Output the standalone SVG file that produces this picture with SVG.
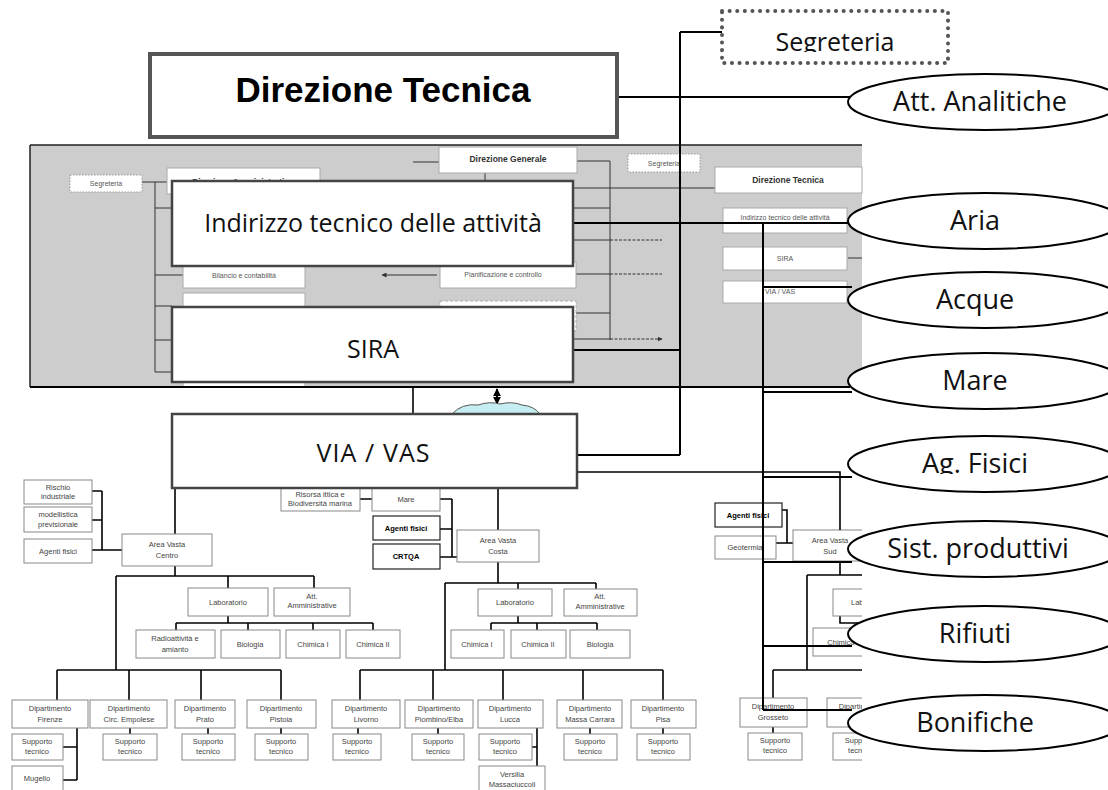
<svg xmlns="http://www.w3.org/2000/svg" width="1108" height="790" viewBox="0 0 1108 790">
<style>
.big{fill:#fff;stroke:#444;stroke-width:2.5}
.bt{font-family:"Open Sans","DejaVu Sans",sans-serif;font-size:25px;fill:#111;text-anchor:middle}
.el{fill:#fff;stroke:#000;stroke-width:2}
.et{font-family:"Open Sans","DejaVu Sans",sans-serif;font-size:27px;fill:#111;text-anchor:middle}
.ct{fill:none;stroke:#000;stroke-width:2}
.c{fill:none;stroke:#000;stroke-width:1.6}
.sl{fill:none;stroke:#333;stroke-width:1}
.ib{fill:#fff;stroke:#aaa;stroke-width:1}
.it{font-family:"Liberation Sans",Arial,sans-serif;font-size:7px;fill:#555;text-anchor:middle}
.itb{font-family:"Liberation Sans",Arial,sans-serif;font-size:8.5px;font-weight:bold;fill:#333;text-anchor:middle}
.sb{fill:#fff;stroke:#888;stroke-width:1}
.sbb{fill:#fff;stroke:#222;stroke-width:1.2}
.st{font-family:"Liberation Sans",Arial,sans-serif;font-size:7.5px;fill:#444;text-anchor:middle}
.stb{font-family:"Liberation Sans",Arial,sans-serif;font-size:7.5px;font-weight:bold;fill:#000;text-anchor:middle}
.dot{fill:#fff;stroke:#999;stroke-width:1;stroke-dasharray:1.5 1.5}
</style>
<defs>
<marker id="ah" viewBox="0 0 10 10" refX="9" refY="5" markerWidth="5" markerHeight="5" orient="auto"><path d="M0,0L10,5L0,10z" fill="#333"/></marker>
<marker id="ahb" viewBox="0 0 10 10" refX="9" refY="5" markerWidth="4" markerHeight="4" orient="auto-start-reverse"><path d="M0,0L10,5L0,10z" fill="#000"/></marker>
<clipPath id="cr"><rect x="0" y="0" width="862" height="790"/></clipPath>
<clipPath id="csegr"><rect x="720" y="0" width="230" height="52"/></clipPath>
<clipPath id="cagf"><rect x="840" y="430" width="268" height="44"/></clipPath>
</defs>

<!-- embedded screenshot background -->
<g id="screenshot">
<rect x="30" y="145" width="832" height="242" fill="#cdcdcd"/>
<path d="M30,145H862M30,145V387" stroke="#222" stroke-width="1.5" fill="none"/>
<g id="ss-lines">
<path class="sl" d="M142,182H167M155,182V372M155,208H172M155,275H183M155,306H172M155,340H172M155,372H172"/>
<path class="sl" d="M413,162H439M485,173V181"/>
<path class="sl" d="M437,275H382" marker-end="url(#ah)"/>
<path class="sl" d="M577,161H610M610,161V340M573,188H715M573,208H610M576,274H610M573,313H610M573,240H610M573,339H610M848,258H862"/>
<path class="sl" d="M610,240H662M610,274H662M610,339H662" stroke-dasharray="3 1.5" marker-end="url(#ah)"/>
</g>
<g id="ss-segr1"><rect class="dot" x="70" y="175" width="72" height="17"/><text class="it" x="106" y="186">Segreteria</text></g>
<g id="ss-diramm"><rect class="ib" x="167" y="168" width="153" height="26"/><text class="itb" x="243" y="185">Direzione Amministrativa</text></g>
<g id="ss-bilancio"><rect class="ib" x="183" y="262" width="122" height="26"/><text class="it" x="244" y="278">Bilancio e contabilità</text></g>
<g id="ss-pers"><rect class="ib" x="183" y="293" width="122" height="30"/></g>
<g id="ss-bottom"><rect class="ib" x="183" y="378" width="122" height="9"/></g>
<g id="ss-dg"><rect class="ib" x="439" y="147" width="138" height="26"/><text class="itb" x="508" y="162">Direzione Generale</text></g>
<g id="ss-pianif"><rect class="ib" x="440" y="262" width="136" height="26"/><text class="it" x="503" y="277">Pianificazione e controllo</text></g>
<g id="ss-dashed"><rect class="ib" x="440" y="301" width="136" height="30" stroke-dasharray="3 2"/></g>
<g id="ss-segr2"><rect class="dot" x="628" y="154" width="72" height="18"/><text class="it" x="664" y="166">Segreteria</text></g>
<g id="ss-dt"><rect class="ib" x="715" y="167" width="147" height="26"/><text class="itb" x="788" y="183">Direzione Tecnica</text></g>
<g id="ss-indir"><rect class="ib" x="723" y="208" width="124" height="25"/><text class="it" x="785" y="220">Indirizzo tecnico delle attività</text></g>
<g id="ss-sira"><rect class="ib" x="723" y="247" width="124" height="23"/><text class="it" x="785" y="261">SIRA</text></g>
<g id="ss-via"><rect class="ib" x="723" y="281" width="124" height="22"/><text class="it" x="780" y="294">VIA / VAS</text></g>
</g>

<!-- lower org chart -->
<g id="org-connectors">
<path class="c" d="M92,491H102M92,520H102M92,550H122M102,491V550"/>
<path class="c" d="M175,488V534M175,566V576M116,576H314M228,576V588M314,576V588M116,576V670"/>
<path class="c" d="M228,616V623M176,623H373M176,623V630M248,623V630M313,623V630M373,623V630"/>
<path class="c" d="M57,670H281M57,670V700M129,670V700M201,670V700M281,670V700"/>
<path class="c" d="M77,728V780M63,747H77M63,780H77M130,728V734M208,728V734M281,728V734"/>
<path class="c" d="M360,499H372M440,499H452M440,529H452M440,557H457M452,499V557"/>
<path class="c" d="M498,488V530M498,562V583M445,583H596M518,583V589M596,583V589M445,583V670"/>
<path class="c" d="M518,616V623M491,623H597M491,623V630M537,623V630M597,623V630"/>
<path class="c" d="M360,670H663M360,670V700M433,670V700M503,670V700M583,670V700M663,670V700"/>
<path class="c" d="M358,728V734M438,728V734M590,728V734M663,728V734M537,728V766M532,747H537"/>
<g clip-path="url(#cr)">
<path class="c" d="M782,510H787V543H793M776,543H787"/>
<path class="c" d="M840,561V575M807,575H870M807,575V670M840,616V623H870M773,670H870M773,670V698M773,727V733"/>
</g>
</g>

<g id="n-rischio"><rect class="sb" x="24" y="480" width="68" height="24"/><text class="st" x="58" y="490">Rischio</text><text class="st" x="58" y="499">industriale</text></g>
<g id="n-modell"><rect class="sb" x="24" y="507" width="68" height="25"/><text class="st" x="58" y="517">modellistica</text><text class="st" x="58" y="527">previsionale</text></g>
<g id="n-agfis1"><rect class="sb" x="24" y="539" width="68" height="24"/><text class="st" x="58" y="554">Agenti fisici</text></g>
<g id="n-avcentro"><rect class="sb" x="122" y="534" width="90" height="32"/><text class="st" x="167" y="547">Area Vasta</text><text class="st" x="167" y="558">Centro</text></g>
<g id="n-lab1"><rect class="sb" x="188" y="588" width="80" height="28"/><text class="st" x="228" y="605">Laboratorio</text></g>
<g id="n-amm1"><rect class="sb" x="274" y="588" width="76" height="28"/><text class="st" x="312" y="599">Att.</text><text class="st" x="312" y="608">Amministrative</text></g>
<g id="n-radio"><rect class="sb" x="136" y="630" width="79" height="28"/><text class="st" x="175" y="641">Radioattività  e</text><text class="st" x="175" y="652">amianto</text></g>
<g id="n-bio1"><rect class="sb" x="221" y="630" width="59" height="28"/><text class="st" x="250" y="647">Biologia</text></g>
<g id="n-chim1"><rect class="sb" x="286" y="630" width="54" height="28"/><text class="st" x="313" y="647">Chimica I</text></g>
<g id="n-chim2"><rect class="sb" x="346" y="630" width="54" height="28"/><text class="st" x="373" y="647">Chimica II</text></g>

<g id="n-firenze"><rect class="sb" x="12" y="700" width="76" height="28"/><text class="st" x="50" y="711">Dipartimento</text><text class="st" x="50" y="722">Firenze</text></g>
<g id="n-empolese"><rect class="sb" x="90" y="700" width="77" height="28"/><text class="st" x="129" y="711">Dipartimento</text><text class="st" x="129" y="722">Circ. Empolese</text></g>
<g id="n-prato"><rect class="sb" x="175" y="700" width="60" height="28"/><text class="st" x="205" y="711">Dipartimento</text><text class="st" x="205" y="722">Prato</text></g>
<g id="n-pistoia"><rect class="sb" x="247" y="700" width="69" height="28"/><text class="st" x="281" y="711">Dipartimento</text><text class="st" x="281" y="722">Pistoia</text></g>
<g id="n-livorno"><rect class="sb" x="332" y="700" width="68" height="28"/><text class="st" x="366" y="711">Dipartimento</text><text class="st" x="366" y="722">Livorno</text></g>
<g id="n-piombino"><rect class="sb" x="405" y="700" width="68" height="28"/><text class="st" x="439" y="711">Dipartimento</text><text class="st" x="439" y="722">Piombino/Elba</text></g>
<g id="n-lucca"><rect class="sb" x="478" y="700" width="65" height="28"/><text class="st" x="510" y="711">Dipartimento</text><text class="st" x="510" y="722">Lucca</text></g>
<g id="n-massa"><rect class="sb" x="557" y="700" width="65" height="28"/><text class="st" x="590" y="711">Dipartimento</text><text class="st" x="590" y="722">Massa Carrara</text></g>
<g id="n-pisa"><rect class="sb" x="631" y="700" width="65" height="28"/><text class="st" x="663" y="711">Dipartimento</text><text class="st" x="663" y="722">Pisa</text></g>

<g id="n-sup-fi"><rect class="sb" x="12" y="734" width="51" height="26"/><text class="st" x="37" y="744">Supporto</text><text class="st" x="37" y="754">tecnico</text></g>
<g id="n-mugello"><rect class="sb" x="12" y="766" width="51" height="28"/><text class="st" x="37" y="781">Mugello</text></g>
<g id="n-sup-em"><rect class="sb" x="103" y="734" width="54" height="26"/><text class="st" x="130" y="744">Supporto</text><text class="st" x="130" y="754">tecnico</text></g>
<g id="n-sup-pr"><rect class="sb" x="182" y="734" width="53" height="26"/><text class="st" x="208" y="744">Supporto</text><text class="st" x="208" y="754">tecnico</text></g>
<g id="n-sup-pt"><rect class="sb" x="255" y="734" width="53" height="26"/><text class="st" x="281" y="744">Supporto</text><text class="st" x="281" y="754">tecnico</text></g>
<g id="n-sup-li"><rect class="sb" x="333" y="734" width="48" height="26"/><text class="st" x="357" y="744">Supporto</text><text class="st" x="357" y="754">tecnico</text></g>
<g id="n-sup-pb"><rect class="sb" x="412" y="734" width="52" height="26"/><text class="st" x="438" y="744">Supporto</text><text class="st" x="438" y="754">tecnico</text></g>
<g id="n-sup-lu"><rect class="sb" x="479" y="734" width="53" height="26"/><text class="st" x="505" y="744">Supporto</text><text class="st" x="505" y="754">tecnico</text></g>
<g id="n-versilia"><rect class="sb" x="479" y="766" width="66" height="28"/><text class="st" x="512" y="777">Versilia</text><text class="st" x="512" y="787">Massaciuccoli</text></g>
<g id="n-sup-ms"><rect class="sb" x="564" y="734" width="53" height="26"/><text class="st" x="590" y="744">Supporto</text><text class="st" x="590" y="754">tecnico</text></g>
<g id="n-sup-pi"><rect class="sb" x="637" y="734" width="53" height="26"/><text class="st" x="663" y="744">Supporto</text><text class="st" x="663" y="754">tecnico</text></g>

<g id="n-risorsa"><rect class="sb" x="281" y="488" width="79" height="23"/><text class="st" x="320" y="497">Risorsa ittica e</text><text class="st" x="320" y="506">Biodiversità marina</text></g>
<g id="n-mare2"><rect class="sb" x="372" y="488" width="68" height="23"/><text class="st" x="406" y="502">Mare</text></g>
<g id="n-agfis2"><rect class="sbb" x="373" y="516" width="67" height="24"/><text class="stb" x="406" y="531">Agenti fisici</text></g>
<g id="n-crtqa"><rect class="sbb" x="373" y="544" width="67" height="25"/><text class="stb" x="406" y="559">CRTQA</text></g>
<g id="n-avcosta"><rect class="sb" x="457" y="530" width="82" height="32"/><text class="st" x="498" y="543">Area Vasta</text><text class="st" x="498" y="554">Costa</text></g>
<g id="n-lab2"><rect class="sb" x="478" y="589" width="74" height="27"/><text class="st" x="515" y="605">Laboratorio</text></g>
<g id="n-amm2"><rect class="sb" x="564" y="589" width="73" height="27"/><text class="st" x="600" y="599">Att.</text><text class="st" x="600" y="609">Amministrative</text></g>
<g id="n-chimI2"><rect class="sb" x="451" y="630" width="53" height="28"/><text class="st" x="477" y="647">Chimica I</text></g>
<g id="n-chimII2"><rect class="sb" x="511" y="630" width="55" height="28"/><text class="st" x="538" y="647">Chimica II</text></g>
<g id="n-bio2"><rect class="sb" x="570" y="630" width="60" height="28"/><text class="st" x="600" y="647">Biologia</text></g>

<g id="sud" clip-path="url(#cr)">
<g id="n-agfis3"><rect class="sbb" x="715" y="503" width="67" height="24"/><text class="stb" x="748" y="518">Agenti fisici</text></g>
<g id="n-geo"><rect class="sb" x="715" y="536" width="61" height="23"/><text class="st" x="745" y="550">Geotermia</text></g>
<g id="n-avsud"><rect class="sb" x="793" y="530" width="74" height="31"/><text class="st" x="830" y="543">Area Vasta</text><text class="st" x="830" y="554">Sud</text></g>
<g id="n-lab3"><rect class="sb" x="833" y="589" width="74" height="27"/><text class="st" x="870" y="605">Laboratorio</text></g>
<g id="n-chim3"><rect class="sb" x="813" y="628" width="60" height="28"/><text class="st" x="843" y="645">Chimica I</text></g>
<g id="n-grosseto"><rect class="sb" x="740" y="698" width="67" height="29"/><text class="st" x="773" y="709">Dipartimento</text><text class="st" x="773" y="720">Grosseto</text></g>
<g id="n-siena"><rect class="sb" x="827" y="698" width="67" height="29"/><text class="st" x="860" y="709">Dipartimento</text><text class="st" x="860" y="720">Siena</text></g>
<g id="n-sup-gr"><rect class="sb" x="748" y="733" width="54" height="27"/><text class="st" x="775" y="743">Supporto</text><text class="st" x="775" y="753">tecnico</text></g>
<g id="n-sup-si"><rect class="sb" x="833" y="733" width="54" height="27"/><text class="st" x="860" y="743">Supporto</text><text class="st" x="860" y="753">tecnico</text></g>
</g>

<!-- main connectors -->
<g id="connectors">
<path class="ct" d="M30,387H850" stroke-width="2.5"/>
<path class="ct" d="M617,97H852"/>
<path class="ct" d="M680,32H722M680,32V455M577,455H680"/>
<path class="ct" d="M573,223H852M763,223V710M763,287H852M763,392H852M763,477H852M763,562H852M763,646H852M763,710H852"/>
<path class="ct" d="M573,350H680"/>
<path class="c" d="M577,472H840V530" stroke-width="1.2"/>
<path class="c" d="M413,387V414" stroke-width="1.3"/>
<path class="ct" d="M497,389V404" marker-start="url(#ahb)" marker-end="url(#ahb)"/>
</g>

<g id="n-cloud"><path d="M452,414Q462,403 478,405Q490,401 500,404Q512,401 522,405Q534,406 540,414Z" fill="#c6eef2" stroke="#555" stroke-width="1"/></g>

<!-- main nodes -->
<g id="n-dirtec"><rect x="150" y="54" width="467" height="83" fill="#fff" stroke="#555" stroke-width="4"/><text x="383" y="102" font-family="'Liberation Sans',Arial,sans-serif" font-size="35" font-weight="bold" fill="#000" text-anchor="middle">Direzione Tecnica</text></g>
<g id="n-segreteria"><rect x="722" y="11" width="226" height="52" fill="#fff" stroke="#555" stroke-width="4" stroke-dasharray="0.1 7.5" stroke-linecap="round"/><text class="bt" x="835" y="51" font-size="24" clip-path="url(#csegr)">Segreteria</text></g>
<g id="n-indirizzo"><rect class="big" x="172" y="181" width="401" height="85"/><text class="bt" x="373" y="232">Indirizzo tecnico delle attività</text></g>
<g id="n-sira"><rect class="big" x="172" y="307" width="401" height="75"/><text class="bt" x="373" y="358">SIRA</text></g>
<g id="n-viavas"><rect class="big" x="172" y="414" width="405" height="74"/><text class="bt" x="373" y="462" textLength="113" lengthAdjust="spacing">VIA / VAS</text></g>

<!-- ellipses -->
<g id="n-attan"><ellipse class="el" cx="985" cy="102" rx="137" ry="28"/><text class="et" x="980" y="111">Att. Analitiche</text></g>
<g id="n-aria"><ellipse class="el" cx="985" cy="221" rx="137" ry="28"/><text class="et" x="975" y="230">Aria</text></g>
<g id="n-acque"><ellipse class="el" cx="985" cy="300" rx="137" ry="28"/><text class="et" x="975" y="309">Acque</text></g>
<g id="n-mare"><ellipse class="el" cx="985" cy="381" rx="137" ry="28"/><text class="et" x="975" y="390">Mare</text></g>
<g id="n-agfisici"><ellipse class="el" cx="985" cy="464" rx="137" ry="28"/><text class="et" x="975" y="473" clip-path="url(#cagf)">Ag. Fisici</text></g>
<g id="n-sistprod"><ellipse class="el" cx="985" cy="549" rx="137" ry="28"/><text class="et" x="978" y="558">Sist. produttivi</text></g>
<g id="n-rifiuti"><ellipse class="el" cx="985" cy="634" rx="137" ry="28"/><text class="et" x="975" y="643">Rifiuti</text></g>
<g id="n-bonifiche"><ellipse class="el" cx="985" cy="723" rx="137" ry="28"/><text class="et" x="975" y="732">Bonifiche</text></g>
</svg>
